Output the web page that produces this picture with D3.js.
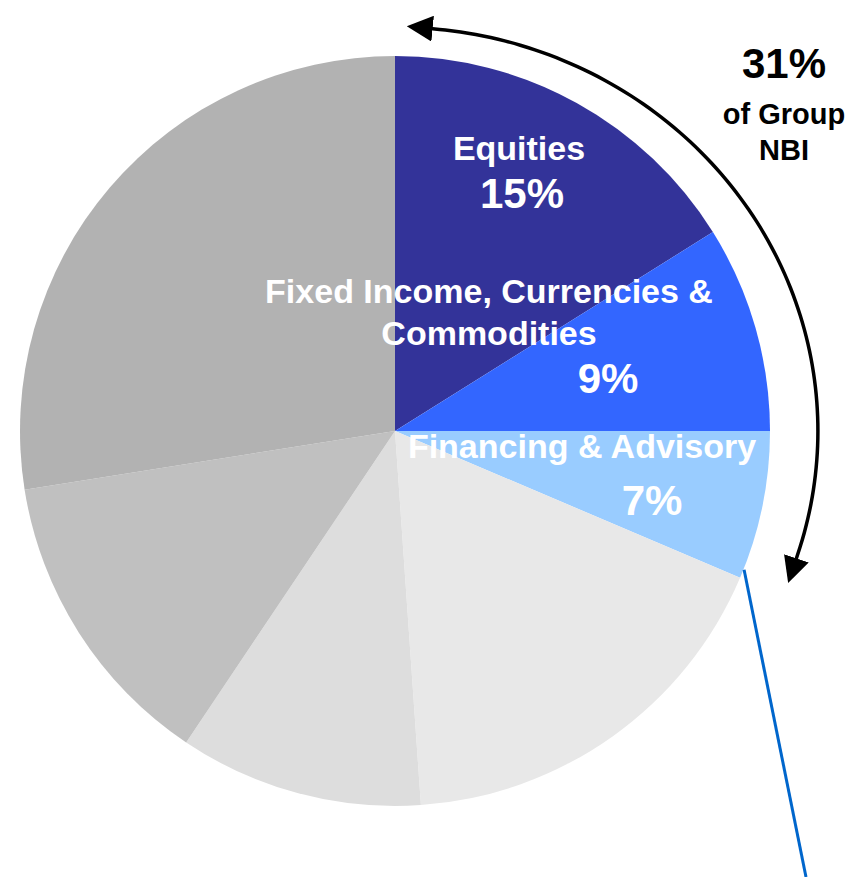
<!DOCTYPE html>
<html>
<head>
<meta charset="utf-8">
<script src="https://cdn.jsdelivr.net/npm/d3@7"></script>
<style>
  body { margin: 0; background: #fff; }
  svg text { font-family: Arial, "Liberation Sans", sans-serif; font-weight: bold; }
</style>
</head>
<body>
<svg id="chart" width="847" height="877"></svg>
<script>
// slice shares (% of group NBI), clockwise from 12 o'clock
var segments = ["Equities", "Fixed Income, Currencies & Commodities", "Financing & Advisory", "Other 1", "Other 2", "Other 3", "Other 4"];
var shares = [16.1, 8.9, 6.4, 17.5, 10.5, 13.1, 27.5];
var colors = ["#333399", "#3366FF", "#99CCFF", "#E8E8E8", "#DDDDDD", "#C0C0C0", "#B2B2B2"];
var labelLines = [["Equities"], ["Fixed Income, Currencies &", "Commodities"], ["Financing & Advisory"]];
var pctLabels = ["15%", "9%", "7%"];
var totalLabel = ["31%", "of Group", "NBI"];

var svg = d3.select("#chart");
var cx = 395, cy = 431, r = 375;

var pie = d3.pie().sort(null).value(function(d){ return d; });
var arcs = pie(shares);
var arc = d3.arc().innerRadius(0).outerRadius(r);

var g = svg.append("g").attr("transform", "translate(" + cx + "," + cy + ")");

g.selectAll("path.slice").data(arcs).enter().append("path")
  .attr("class", "slice")
  .attr("d", arc)
  .attr("fill", function(d, i){ return colors[i]; });

// label positions (relative to centre) for the three highlighted slices
var namePos = [[124, -271], [94, -128], [187, 27]];
var pctPos = [[127, -223], [213, -38], [257, 84]];

labelLines.forEach(function(lines, i){
  lines.forEach(function(t, j){
    g.append("text")
      .attr("x", namePos[i][0])
      .attr("y", namePos[i][1] + j * 42)
      .attr("text-anchor", "middle")
      .attr("fill", "#fff")
      .style("font-size", "34px")
      .text(t);
  });
  g.append("text")
    .attr("x", pctPos[i][0])
    .attr("y", pctPos[i][1])
    .attr("text-anchor", "middle")
    .attr("fill", "#fff")
    .style("font-size", "42px")
    .text(pctLabels[i]);
});

// curved double arrow round the highlighted slices
var defs = svg.append("defs");
defs.append("marker")
  .attr("id", "head")
  .attr("viewBox", "0 0 10 10")
  .attr("refX", 1).attr("refY", 5)
  .attr("markerUnits", "userSpaceOnUse")
  .attr("markerWidth", 26).attr("markerHeight", 26)
  .attr("orient", "auto-start-reverse")
  .append("path").attr("d", "M0,0 L10,5 L0,10 Z").attr("fill", "#000");

var rx = 423, ry = 404;
var endAngle = arcs[2].endAngle;
var tScale = d3.scaleLinear().domain([0, 1]).range([0.083, endAngle - 0.075]);
var pts = d3.range(0, 1.0001, 0.02).map(function(p){
  var t = tScale(p);
  return [rx * Math.sin(t), -ry * Math.cos(t)];
});
g.append("path")
  .attr("d", d3.line().curve(d3.curveBasis)(pts))
  .attr("fill", "none")
  .attr("stroke", "#000")
  .attr("stroke-width", 3.5)
  .attr("marker-start", "url(#head)")
  .attr("marker-end", "url(#head)");

// leader line from the edge of Financing & Advisory
var edge = d3.pointRadial(endAngle, r);
g.append("line")
  .attr("x1", edge[0] + 4).attr("y1", edge[1] - 8)
  .attr("x2", 806 - cx).attr("y2", 877 - cy)
  .attr("stroke", "#0066CC")
  .attr("stroke-width", 3);

// total annotation
var tot = svg.append("g").attr("transform", "translate(784,0)");
tot.append("text").attr("y", 78).attr("text-anchor", "middle").style("font-size", "42px").text(totalLabel[0]);
tot.append("text").attr("y", 124).attr("text-anchor", "middle").style("font-size", "29px").text(totalLabel[1]);
tot.append("text").attr("y", 160).attr("text-anchor", "middle").style("font-size", "29px").text(totalLabel[2]);
</script>
</body>
</html>
